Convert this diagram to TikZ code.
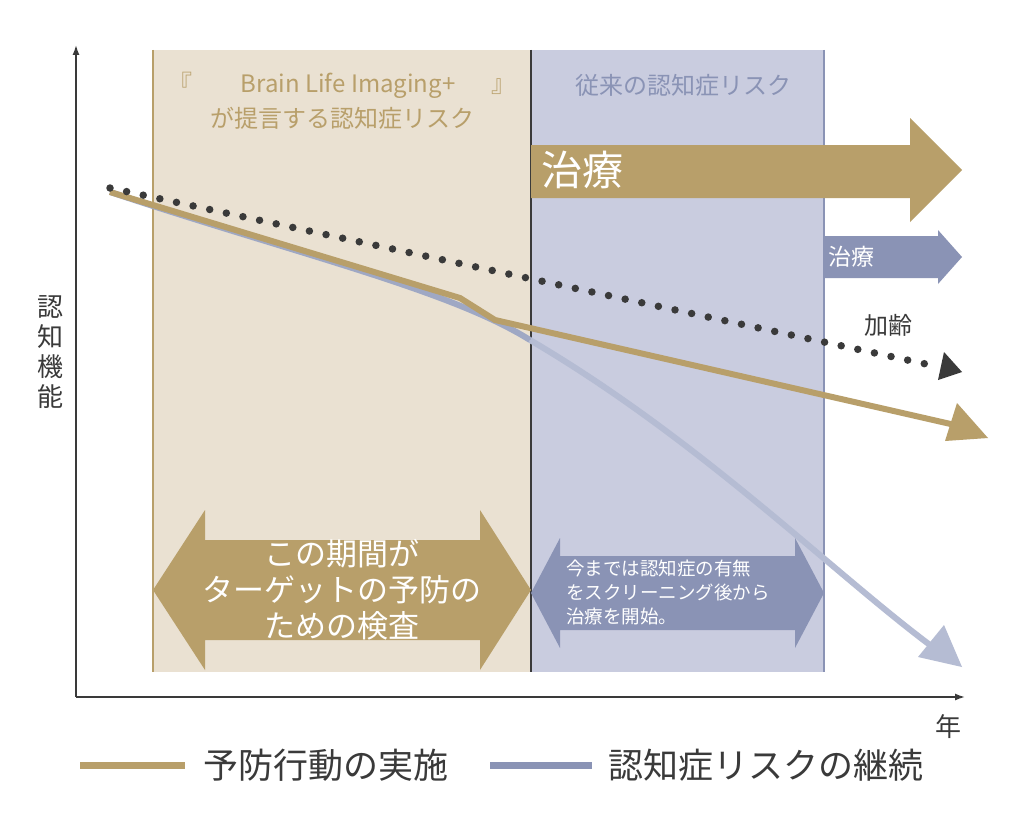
\documentclass[tikz,border=0pt]{standalone}
\usepackage{fontspec}
\setmainfont{Noto Sans CJK JP}
\usetikzlibrary{arrows.meta}
\definecolor{tan}{HTML}{B89F6A}
\definecolor{beige}{HTML}{EAE1D2}
\definecolor{lav}{HTML}{C9CCDF}
\definecolor{bl}{HTML}{8A93B5}
\definecolor{lblue}{HTML}{B5BCD3}
\definecolor{dk}{HTML}{3A3A3A}
\tikzset{lbl/.style={inner sep=0pt,font=\fontsize{24}{28}\selectfont},
wt/.style={text=white,align=center,inner sep=0pt}}
\begin{document}
\begin{tikzpicture}[x=1pt,y=-1pt]
\useasboundingbox[fill=white] (0,0) rectangle (1016,824);
\fill[beige] (153,50) rectangle (531,672);
\fill[lav] (531,50) rectangle (824,672);
\draw[tan,line width=2pt] (153,50) -- (153,672);
\draw[bl,line width=2pt] (824,50) -- (824,672);
\draw[dk,line width=2pt] (531,50) -- (531,672);
% axes
\coordinate (o) at (76,697); \coordinate (yt) at (76,45); \coordinate (xt) at (965,697);
\draw[dk,line width=1.5pt,-{Latex[length=10pt,width=7pt]}] (o) -- (yt);
\draw[dk,line width=1.5pt,-{Latex[length=10pt,width=7pt]}] (o) -- (xt);
% titles
\node[lbl,text=tan] (t1) at (342,85) {『\hspace{2em}Brain Life Imaging+\hspace{1.5em}』};
\node[lbl,text=tan] (t2) at (342,118) {が提言する認知症リスク};
\node[lbl,text=bl] (t3) at (683,85) {従来の認知症リスク};
% big arrow
\fill[tan] (531,145) -- (910,145) -- (910,118) -- (962,170) -- (910,222) -- (910,198) -- (531,198) -- cycle;
\node[wt,font=\fontsize{41}{45}\selectfont,anchor=west] (tr1) at (541,170) {治療};
\fill[bl] (824,236) -- (938,236) -- (938,230) -- (962,257) -- (938,284) -- (938,278) -- (824,278) -- cycle;
\node[wt,font=\fontsize{23}{26}\selectfont,anchor=west] (tr2) at (828,257) {治療};
% lines
\coordinate (s) at (110,192);
\draw[lblue!50!bl,line width=6pt] (s) .. controls (300,255) and (450,290) .. (530,340);
\draw[lblue,line width=6pt] (530,340) .. controls (700,440) and (830,570) .. (930,645);
\fill[lblue] (962,667) -- (918,657) -- (944,625) -- cycle;
\draw[tan,line width=6pt] (s) -- (460,298) -- (495,320) -- (955,425);
\fill[tan] (988,438) -- (945,441) -- (957,403) -- cycle;
\draw[dk,line width=7.5pt,line cap=round,dash pattern=on 0pt off 17pt] (110,188) -- (935,366);
\fill[dk] (962,372) -- (938,380) -- (944,352) -- cycle;
\node[lbl,text=dk] (kr) at (888,325) {加齢};
% double arrows
\fill[tan] (153,590) -- (205,510) -- (205,540) -- (480,540) -- (480,510) -- (531,590) -- (480,670) -- (480,640) -- (205,640) -- (205,670) -- cycle;
\node[wt,font=\fontsize{31}{36}\selectfont] (d1) at (342,590) {この期間が\\ターゲットの予防の\\ための検査};
\fill[bl] (531,593) -- (560,538) -- (560,556) -- (795,556) -- (795,538) -- (824,593) -- (795,648) -- (795,630) -- (560,630) -- (560,648) -- cycle;
\node[wt,font=\fontsize{18.5}{24}\selectfont,align=left,anchor=west] (d2) at (566,592) {今までは認知症の有無\\をスクリーニング後から\\治療を開始。};
% axis labels
\node[lbl,text=dk,align=center,font=\fontsize{26}{30}\selectfont] (yl) at (50,352) {認\\知\\機\\能};
\node[lbl,text=dk,font=\fontsize{26}{30}\selectfont] (xl) at (948,727) {年};
% legend
\coordinate (l1a) at (80,765); \coordinate (l1b) at (185,765);
\coordinate (l2a) at (490,765); \coordinate (l2b) at (592,765);
\draw[tan,line width=7pt] (l1a) -- (l1b);
\draw[bl,line width=7pt] (l2a) -- (l2b);
\node[lbl,text=dk,anchor=west,font=\fontsize{35}{39}\selectfont] (g1) at (203,765) {予防行動の実施};
\node[lbl,text=dk,anchor=west,font=\fontsize{35}{39}\selectfont] (g2) at (608,765) {認知症リスクの継続};
\end{tikzpicture}
\end{document}
